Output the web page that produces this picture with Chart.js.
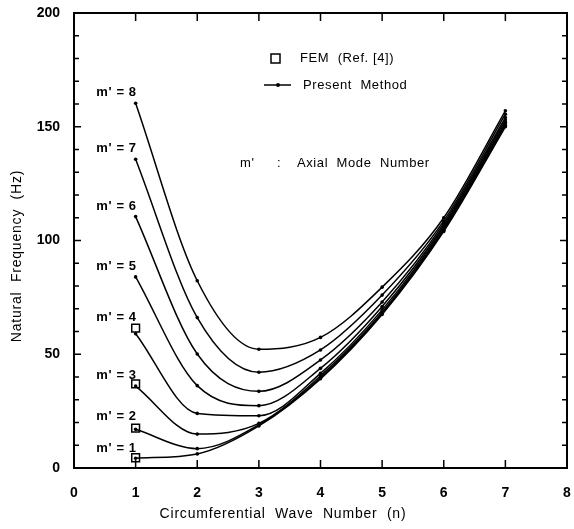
<!DOCTYPE html>
<html>
<head>
<meta charset="utf-8">
<script src="https://cdn.jsdelivr.net/npm/chart.js@4/dist/chart.umd.min.js"></script>
<style>
  html, body { margin: 0; padding: 0; background: #fff; }
  #wrap { width: 574px; height: 529px; }
</style>
</head>
<body>
<div id="wrap"><canvas id="freqChart"></canvas></div>
<script>
// circumferential wave number n
const waveNumbers = [1, 2, 3, 4, 5, 6, 7];

// present method, one list per axial mode m'
const mode1 = [4.3, 6.2, 18.5, 39.2, 67.5, 104.0, 150.0];
const mode2 = [17.0, 8.5, 19.0, 39.7, 68.0, 104.5, 150.5];
const mode3 = [36.0, 14.9, 19.6, 40.5, 68.5, 105.0, 151.2];
const mode4 = [59.0, 24.0, 23.0, 41.6, 69.5, 105.8, 152.0];
const mode5 = [84.0, 36.2, 27.4, 43.8, 71.0, 106.6, 153.0];
const mode6 = [110.5, 50.1, 33.7, 47.5, 73.0, 107.5, 154.0];
const mode7 = [135.7, 66.1, 42.1, 51.9, 76.0, 108.6, 155.5];
const mode8 = [160.3, 82.3, 52.2, 57.4, 79.5, 110.0, 157.0];
const modeSeries = [mode1, mode2, mode3, mode4, mode5, mode6, mode7, mode8];
const modeLabels = ["m' = 1", "m' = 2", "m' = 3", "m' = 4", "m' = 5", "m' = 6", "m' = 7", "m' = 8"];

// FEM (Ref. [4]) results
const femWaveNumbers = [1, 1, 1, 1];
const femFreq = [4.5, 17.5, 37.0, 61.5];

const xTicks = [0, 1, 2, 3, 4, 5, 6, 7, 8];
const yLabelled = [0, 50, 100, 150, 200];

const FONT = "'Liberation Sans', Arial, Helvetica, sans-serif";

function text(ctx, str, x, y, size, align, spacing, weight) {
    ctx.font = (weight || 'normal') + ' ' + size + 'px ' + FONT;
    ctx.letterSpacing = (spacing || 0) + 'px';
    ctx.textAlign = align || 'left';
    ctx.textBaseline = 'middle';
    ctx.fillText(str, x, y);
}

const framePlugin = {
    id: 'frame',
    afterDraw(chart) {
        const { ctx, chartArea: a, scales: { x, y } } = chart;
        ctx.save();
        ctx.strokeStyle = '#000';
        ctx.fillStyle = '#000';

        // box
        ctx.lineWidth = 2;
        ctx.strokeRect(a.left, a.top, a.right - a.left, a.bottom - a.top);

        // inward ticks
        ctx.lineWidth = 1.5;
        ctx.beginPath();
        x.ticks.forEach(t => {
            const px = x.getPixelForValue(t.value);
            ctx.moveTo(px, a.bottom); ctx.lineTo(px, a.bottom - 8);
            ctx.moveTo(px, a.top); ctx.lineTo(px, a.top + 8);
        });
        y.ticks.forEach(t => {
            const py = y.getPixelForValue(t.value);
            const len = t.value % 50 === 0 ? 7 : 5;
            ctx.moveTo(a.left, py); ctx.lineTo(a.left + len, py);
            ctx.moveTo(a.right, py); ctx.lineTo(a.right - len, py);
        });
        ctx.stroke();

        // mode labels beside the n = 1 points
        const lift = [10, 13, 11, 16, 10, 10, 11, 11];
        modeSeries.forEach((s, i) => {
            const px = x.getPixelForValue(waveNumbers[0]);
            const py = y.getPixelForValue(s[0]);
            text(ctx, modeLabels[i], px + 1, py - lift[i], 13, 'right', 0.6, 'bold');
        });

        // legend
        ctx.lineWidth = 1.5;
        ctx.strokeRect(271, 54, 9, 9);
        text(ctx, 'FEM  (Ref. [4])', 300, 58, 13, 'left', 0.6);
        ctx.beginPath();
        ctx.moveTo(264, 85); ctx.lineTo(291, 85);
        ctx.stroke();
        ctx.beginPath();
        ctx.arc(278, 85, 2, 0, Math.PI * 2);
        ctx.fill();
        text(ctx, 'Present  Method', 303, 85, 13, 'left', 0.6);
        text(ctx, "m'", 240, 163, 13, 'left', 0.6);
        text(ctx, ':', 277, 163, 13, 'left', 0);
        text(ctx, 'Axial  Mode  Number', 297, 163, 13, 'left', 0.6);

        // axis titles
        text(ctx, 'Circumferential  Wave  Number  (n)', 283, 514, 14, 'center', 0.8);
        ctx.save();
        ctx.translate(17, 256);
        ctx.rotate(-Math.PI / 2);
        text(ctx, 'Natural  Frequency  (Hz)', 0, 0, 14, 'center', 0.8);
        ctx.restore();

        ctx.restore();
    }
};

const lineSets = modeSeries.map((s, i) => ({
    label: modeLabels[i],
    data: waveNumbers.map((n, j) => ({ x: n, y: s[j] })),
    borderColor: '#000',
    backgroundColor: '#000',
    borderWidth: 1.5,
    pointRadius: 1.8,
    pointBorderWidth: 0,
    cubicInterpolationMode: 'monotone',
    order: 2
}));

const femSet = {
    type: 'scatter',
    label: 'FEM (Ref. [4])',
    data: femWaveNumbers.map((n, j) => ({ x: n, y: femFreq[j] })),
    pointStyle: 'rect',
    pointRadius: 5.5,
    borderColor: '#000',
    backgroundColor: 'rgba(255,255,255,0)',
    borderWidth: 1.5,
    order: 1
};

new Chart(document.getElementById('freqChart'), {
    type: 'line',
    data: { datasets: [...lineSets, femSet] },
    options: {
        responsive: true,
        maintainAspectRatio: false,
        animation: false,
        layout: { padding: { top: 13, right: 1, left: 0, bottom: 0 } },
        plugins: {
            legend: { display: false },
            tooltip: { enabled: false }
        },
        scales: {
            x: {
                type: 'linear',
                min: xTicks[0],
                max: xTicks[xTicks.length - 1],
                grid: { display: false, drawTicks: false },
                border: { display: false },
                afterBuildTicks: s => { s.ticks = xTicks.map(v => ({ value: v })); },
                afterFit: s => { s.height = 61; s.paddingLeft = 0; s.paddingRight = 0; },
                ticks: {
                    color: '#000',
                    padding: 17,
                    maxRotation: 0,
                    autoSkip: false,
                    font: { family: FONT, size: 14, weight: 'bold' }
                }
            },
            y: {
                min: 0,
                max: 200,
                grid: { display: false, drawTicks: false },
                border: { display: false },
                afterFit: s => { s.width = 74; s.paddingTop = 0; s.paddingBottom = 0; },
                ticks: {
                    stepSize: 10,
                    color: '#000',
                    padding: 14,
                    autoSkip: false,
                    callback: v => (yLabelled.includes(v) ? v : ''),
                    font: { family: FONT, size: 14, weight: 'bold' }
                }
            }
        }
    },
    plugins: [framePlugin]
});
</script>
</body>
</html>
